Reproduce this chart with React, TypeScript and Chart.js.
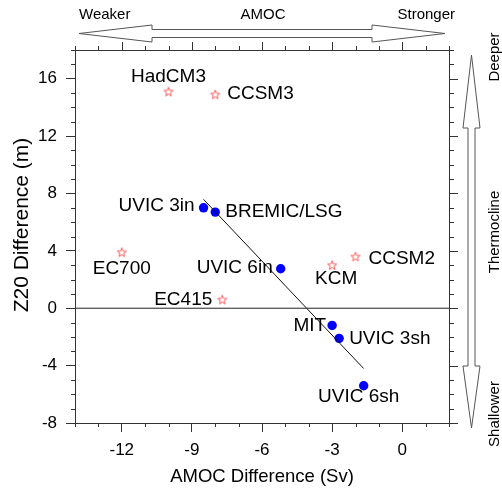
import React, { useEffect, useRef } from "react";
import { Chart, registerables } from "chart.js";
Chart.register(...registerables);

// ---- data ----
const uvicModels = ["UVIC 3in", "BREMIC/LSG", "UVIC 6in", "MIT", "UVIC 3sh", "UVIC 6sh"];
const uvicAmoc = [-8.5, -8.0, -5.2, -3.0, -2.7, -1.65];
const uvicZ20 = [7.0, 6.7, 2.75, -1.2, -2.1, -5.4];

const otherModels = ["HadCM3", "CCSM3", "EC700", "EC415", "KCM", "CCSM2"];
const otherAmoc = [-10.0, -8.0, -12.0, -7.7, -3.0, -2.0];
const otherZ20 = [15.1, 14.9, 3.9, 0.6, 3.0, 3.6];

const xTicks = [-12, -9, -6, -3, 0];
const yTicks = [-8, -4, 0, 4, 8, 12, 16];
const xMin = -14, xMax = 2, yMin = -8, yMax = 18;

const xTitle = "AMOC Difference (Sv)";
const yTitle = "Z20 Difference (m)";
const topTexts = ["Weaker", "AMOC", "Stronger"];
const rightTexts = ["Deeper", "Thermocline", "Shallower"];

// label placement (style): [dx, dy, align]
const uvicLabelPos: [number, number, CanvasTextAlign][] = [
  [-9, -2, "right"], [10, 0, "left"], [-8, -1, "right"], [-6, 0, "right"], [10, 0, "left"], [-5, 11, "center"],
];
const otherLabelPos: [number, number, CanvasTextAlign][] = [
  [0, -15, "center"], [12, -1, "left"], [0, 16, "center"], [-10, 0, "right"], [4, 14, "center"], [13, 2, "left"],
];

const FONT = "'Liberation Sans', Arial, Helvetica, sans-serif";

function leastSquares(xs: number[], ys: number[]) {
  const n = xs.length;
  const mx = xs.reduce((a, b) => a + b, 0) / n;
  const my = ys.reduce((a, b) => a + b, 0) / n;
  let sxy = 0, sxx = 0;
  for (let i = 0; i < n; i++) { sxy += (xs[i] - mx) * (ys[i] - my); sxx += (xs[i] - mx) ** 2; }
  const slope = sxy / sxx;
  const x0 = Math.min(...xs), x1 = Math.max(...xs);
  return [{ x: x0, y: my + slope * (x0 - mx) }, { x: x1, y: my + slope * (x1 - mx) }];
}

function makeStar(color: string) {
  const c = document.createElement("canvas");
  const s = 12;
  c.width = s; c.height = s;
  const ctx = c.getContext("2d")!;
  ctx.strokeStyle = color;
  ctx.lineWidth = 1;
  ctx.beginPath();
  for (let i = 0; i < 10; i++) {
    const r = i % 2 === 0 ? 4.8 : 2.0;
    const a = -Math.PI / 2 + (i * Math.PI) / 5;
    const px = s / 2 + r * Math.cos(a);
    const py = s / 2 + r * Math.sin(a) + 0.4;
    if (i) ctx.lineTo(px, py); else ctx.moveTo(px, py);
  }
  ctx.closePath();
  ctx.stroke();
  return c;
}

function hollowArrowH(ctx: CanvasRenderingContext2D, x0: number, x1: number, cy: number, headLen: number, headHalf: number, shaftHalf: number) {
  ctx.beginPath();
  ctx.moveTo(x0, cy);
  ctx.lineTo(x0 + headLen, cy - headHalf);
  ctx.lineTo(x0 + headLen, cy - shaftHalf);
  ctx.lineTo(x1 - headLen, cy - shaftHalf);
  ctx.lineTo(x1 - headLen, cy - headHalf);
  ctx.lineTo(x1, cy);
  ctx.lineTo(x1 - headLen, cy + headHalf);
  ctx.lineTo(x1 - headLen, cy + shaftHalf);
  ctx.lineTo(x0 + headLen, cy + shaftHalf);
  ctx.lineTo(x0 + headLen, cy + headHalf);
  ctx.closePath();
  ctx.stroke();
}

function hollowArrowV(ctx: CanvasRenderingContext2D, y0: number, y1: number, cx: number, headTop: number, headBot: number, headHalf: number, shaftHalf: number) {
  ctx.beginPath();
  ctx.moveTo(cx, y0);
  ctx.lineTo(cx + headHalf, y0 + headTop);
  ctx.lineTo(cx + shaftHalf, y0 + headTop);
  ctx.lineTo(cx + shaftHalf, y1 - headBot);
  ctx.lineTo(cx + headHalf, y1 - headBot);
  ctx.lineTo(cx, y1);
  ctx.lineTo(cx - headHalf, y1 - headBot);
  ctx.lineTo(cx - shaftHalf, y1 - headBot);
  ctx.lineTo(cx - shaftHalf, y0 + headTop);
  ctx.lineTo(cx - headHalf, y0 + headTop);
  ctx.closePath();
  ctx.stroke();
}

const decorPlugin = {
  id: "decor",
  afterDatasetsDraw(chart: any) {
    const ctx: CanvasRenderingContext2D = chart.ctx;
    const { left, right, top, bottom } = chart.chartArea;
    const xs = chart.scales.x, ys = chart.scales.y;
    ctx.save();
    // frame
    ctx.strokeStyle = "#333";
    ctx.lineWidth = 1;
    ctx.strokeRect(Math.round(left) + 0.5, Math.round(top) + 0.5, Math.round(right - left), Math.round(bottom - top));
    // ticks
    ctx.beginPath();
    for (let v = xMin; v <= xMax; v++) {
      const px = Math.round(xs.getPixelForValue(v)) + 0.5;
      const major = xTicks.includes(v);
      if (!major) { ctx.moveTo(px, bottom); ctx.lineTo(px, bottom + 4); }
      ctx.moveTo(px, top); ctx.lineTo(px, top - (major ? 8 : 4));
    }
    for (let v = yMin; v <= yMax; v++) {
      const py = Math.round(ys.getPixelForValue(v)) + 0.5;
      const major = yTicks.includes(v);
      if (!major) { ctx.moveTo(left, py); ctx.lineTo(left - 4, py); }
      ctx.moveTo(right, py); ctx.lineTo(right + (major ? 9 : 5), py);
    }
    ctx.stroke();

    // point labels
    ctx.fillStyle = "#000";
    ctx.font = `19px ${FONT}`;
    ctx.textBaseline = "middle";
    const drawLabels = (dsIndex: number, names: string[], pos: [number, number, CanvasTextAlign][]) => {
      const meta = chart.getDatasetMeta(dsIndex);
      meta.data.forEach((el: any, i: number) => {
        const [dx, dy, align] = pos[i];
        ctx.textAlign = align;
        ctx.fillText(names[i], el.x + dx, el.y + dy);
      });
    };
    drawLabels(2, otherModels, otherLabelPos);
    drawLabels(3, uvicModels, uvicLabelPos);

    // axis titles
    ctx.textAlign = "center";
    ctx.font = `18.5px ${FONT}`;
    ctx.fillText(xTitle, (left + right) / 2, 477);
    ctx.save();
    ctx.translate(22, 225);
    ctx.rotate(-Math.PI / 2);
    ctx.font = `21px ${FONT}`;
    ctx.fillText(yTitle, 0, 0);
    ctx.restore();

    // top arrow + texts
    ctx.strokeStyle = "#555";
    ctx.lineWidth = 1;
    hollowArrowH(ctx, 79, 445, 33.5, 73, 8.5, 4);
    ctx.font = `15px ${FONT}`;
    ctx.textAlign = "left";
    ctx.fillText(topTexts[0], 79, 15);
    ctx.textAlign = "center";
    ctx.fillText(topTexts[1], 263, 15);
    ctx.textAlign = "right";
    ctx.fillText(topTexts[2], 455, 15);

    // right arrow + texts
    hollowArrowV(ctx, 55, 428, 471.5, 73, 62, 8.5, 3.5);
    const rt: [string, number][] = [[rightTexts[0], 57], [rightTexts[1], 232], [rightTexts[2], 414]];
    rt.forEach(([t, y]) => {
      ctx.save();
      ctx.translate(495, y);
      ctx.rotate(-Math.PI / 2);
      ctx.textAlign = "center";
      ctx.fillText(t, 0, 0);
      ctx.restore();
    });
    ctx.restore();
  },
};

export default function App() {
  const ref = useRef<HTMLCanvasElement | null>(null);
  useEffect(() => {
    if (!ref.current) return;
    Chart.defaults.font.family = FONT;
    const star = makeStar("#ff5a5a");
    const fit = leastSquares(uvicAmoc, uvicZ20);
    const chart = new Chart(ref.current, {
      type: "scatter",
      data: {
        datasets: [
          { type: "line", data: [{ x: xMin, y: 0 }, { x: xMax, y: 0 }], borderColor: "#222", borderWidth: 1, pointRadius: 0 } as any,
          { type: "line", data: fit, borderColor: "#111", borderWidth: 1, pointRadius: 0 } as any,
          {
            data: otherAmoc.map((x, i) => ({ x, y: otherZ20[i] })),
            pointStyle: star as any, pointRadius: 5, borderColor: "#ff5a5a", backgroundColor: "rgba(0,0,0,0)",
          },
          {
            data: uvicAmoc.map((x, i) => ({ x, y: uvicZ20[i] })),
            pointStyle: "circle", pointRadius: 4.7, borderWidth: 0, backgroundColor: "#0000ff", borderColor: "#0000ff",
          },
        ],
      },
      options: {
        animation: false,
        responsive: false,
        maintainAspectRatio: false,
        layout: { padding: { top: 50, right: 53, left: 0, bottom: 0 } },
        plugins: { legend: { display: false }, tooltip: { enabled: false } },
        scales: {
          x: {
            type: "linear", position: "bottom", min: xMin, max: xMax,
            afterBuildTicks: (s: any) => { s.ticks = xTicks.map((v) => ({ value: v })); },
            afterFit: (s: any) => { s.height = 68; },
            ticks: { font: { size: 17 }, color: "#000", padding: 8, maxRotation: 0, autoSkip: false },
            grid: { drawOnChartArea: false, drawTicks: true, tickLength: 9, color: "#333", tickColor: "#333" },
            border: { display: false },
          },
          y: {
            type: "linear", position: "left", min: yMin, max: yMax,
            afterBuildTicks: (s: any) => { s.ticks = yTicks.map((v) => ({ value: v })); },
            afterFit: (s: any) => { s.width = 75; },
            ticks: { font: { size: 17 }, color: "#000", padding: 9, autoSkip: false },
            grid: { drawOnChartArea: false, drawTicks: true, tickLength: 9, color: "#333", tickColor: "#333" },
            border: { display: false },
          },
        },
      },
      plugins: [decorPlugin],
    });
    return () => chart.destroy();
  }, []);
  return (
    <div style={{ position: "fixed", left: 0, top: 0, width: 502, height: 491, background: "#fff" }}>
      <canvas ref={ref} width={502} height={491} style={{ width: 502, height: 491 }} />
    </div>
  );
}
